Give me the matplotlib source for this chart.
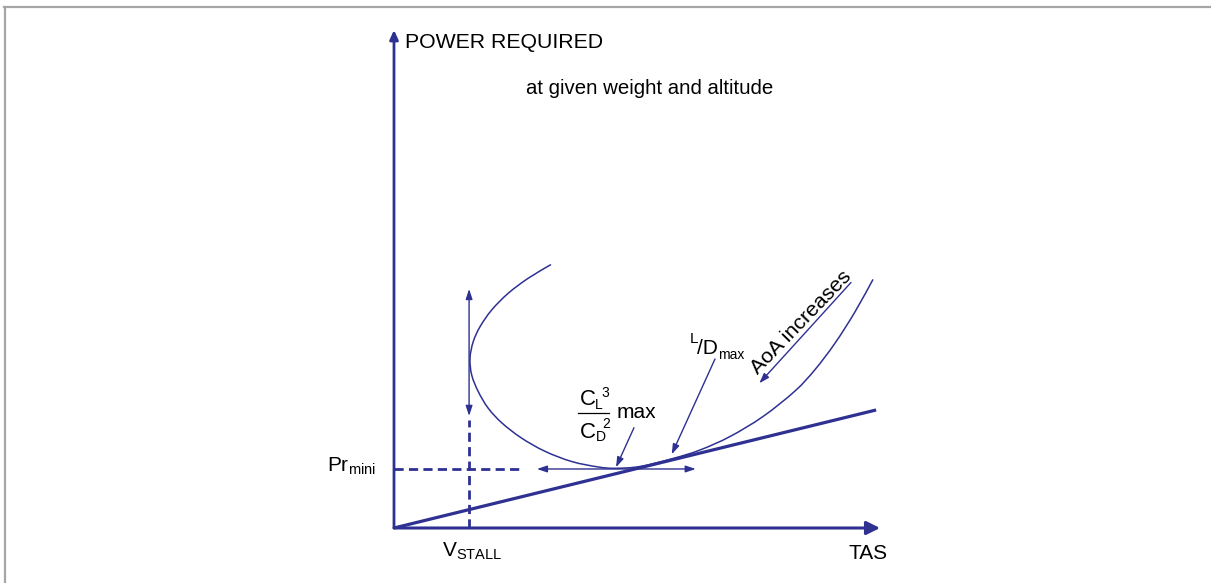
import matplotlib
matplotlib.use("Agg")
import matplotlib.pyplot as plt
from matplotlib.lines import Line2D
from matplotlib.path import Path
from matplotlib.patches import PathPatch

plt.rcParams['font.family'] = ['Liberation Sans', 'DejaVu Sans']
plt.rcParams['mathtext.fontset'] = 'custom'
plt.rcParams['mathtext.rm'] = 'Liberation Sans'
plt.rcParams['mathtext.it'] = 'Liberation Sans:italic'
plt.rcParams['mathtext.bf'] = 'Liberation Sans:bold'

# ---- data (arbitrary units) ----
curve_tas = [32.3, 27.6, 23.5, 20.1, 17.7, 16.3, 15.64, 15.99, 17.35, 19.4,
             22.22, 26.23, 31.07, 36.56, 42.04, 45.47, 50.62, 57.41, 62.96,
             69.14, 75.93, 82.51, 86.63, 90.74, 94.86, 98.56]
curve_power = [52.9, 50.14, 47.13, 43.78, 40.42, 37.41, 34.08, 30.72, 27.37,
               24.04, 21.08, 18.07, 15.4, 13.35, 12.25, 11.99, 12.35, 13.96,
               15.66, 18.37, 22.39, 27.51, 31.81, 37.11, 43.41, 49.92]
tangent_tas = [0.0, 99.2]
tangent_power = [0.0, 23.7]
v_stall = 15.45
pr_min = 11.85
stall_arrow_power = [22.5, 48.0]
min_arrow_tas = [29.4, 62.1]

labels = {
    'y': 'POWER REQUIRED',
    'x': 'TAS',
    'sub': 'at given weight and altitude',
    'aoa': 'AoA increases',
}

BLUE = '#2E3192'
W, H = 1211, 583
fig = plt.figure(figsize=(W / 100, H / 100), dpi=100)
fig.patch.set_facecolor('white')

# gray frame (top and left)
fig.add_artist(Line2D([4 / W, 1], [1 - 7 / H, 1 - 7 / H], color='#A6A6A6', lw=1.6))
fig.add_artist(Line2D([5 / W, 5 / W], [0, 1 - 7 / H], color='#A6A6A6', lw=1.6))

ax = fig.add_axes([394 / W, 55 / H, 486 / W, 498 / H])
ax.set_xlim(0, 100)
ax.set_ylim(0, 100)
ax.axis('off')

# axes arrows
ax.annotate('', xy=(100, 0), xytext=(0, 0), annotation_clip=False,
            arrowprops=dict(arrowstyle='-|>,head_length=0.8,head_width=0.4',
                            color=BLUE, lw=2.2, shrinkA=0, shrinkB=0,
                            mutation_scale=10))
ax.annotate('', xy=(0, 100), xytext=(0, 0), annotation_clip=False,
            arrowprops=dict(arrowstyle='-|>,head_length=0.55,head_width=0.25',
                            color=BLUE, lw=2.0, shrinkA=0, shrinkB=0,
                            mutation_scale=10))

# tangent line
ax.plot(tangent_tas, tangent_power, color=BLUE, lw=2.3, solid_capstyle='butt', clip_on=False)

# power-required curve drawn as a smooth path through the read points
pts = list(zip(curve_tas, curve_power))
verts = [pts[0]]
codes = [Path.MOVETO]
n = len(pts)
for i in range(n - 1):
    p0 = pts[i - 1] if i > 0 else pts[i]
    p1 = pts[i]
    p2 = pts[i + 1]
    p3 = pts[i + 2] if i + 2 < n else pts[i + 1]
    c1 = (p1[0] + (p2[0] - p0[0]) / 6, p1[1] + (p2[1] - p0[1]) / 6)
    c2 = (p2[0] - (p3[0] - p1[0]) / 6, p2[1] - (p3[1] - p1[1]) / 6)
    verts += [c1, c2, p2]
    codes += [Path.CURVE4] * 3
ax.add_patch(PathPatch(Path(verts, codes), fill=False, edgecolor=BLUE, lw=1.1,
                       clip_on=False))

# dashed guides
ax.plot([v_stall, v_stall], [0, 21.7], color=BLUE, lw=2.0, dashes=(3.3, 1.9), clip_on=False)
ax.plot([0, 26.6], [pr_min, pr_min], color=BLUE, lw=2.0, dashes=(3.3, 1.9), clip_on=False)

thin = dict(arrowstyle='<|-|>,head_length=0.6,head_width=0.2', color=BLUE, lw=1.0,
            shrinkA=0, shrinkB=0, mutation_scale=10)
ax.annotate('', xy=(v_stall, stall_arrow_power[1]), xytext=(v_stall, stall_arrow_power[0]),
            arrowprops=thin)
ax.annotate('', xy=(min_arrow_tas[1], pr_min), xytext=(min_arrow_tas[0], pr_min),
            arrowprops=thin)

single = dict(arrowstyle='-|>,head_length=0.6,head_width=0.2', color=BLUE, lw=1.0,
              shrinkA=0, shrinkB=0, mutation_scale=10)
ax.annotate('', xy=(45.68, 12.19), xytext=(49.38, 20.14), arrowprops=single)
ax.annotate('', xy=(57.14, 14.8), xytext=(66.05, 33.94), arrowprops=single)
ax.annotate('', xy=(75.16, 29.06), xytext=(94.03, 49.3), arrowprops=single)

# texts
ax.text(2.26, 96.4, labels['y'], fontsize=15.3, ha='left', va='baseline')
ax.text(27.1, 87.15, labels['sub'], fontsize=14.7, ha='left', va='baseline')
ax.text(93.42, -6.22, labels['x'], fontsize=15, ha='left', va='baseline')
ax.text(9.81, -5.82, r'V$_{\mathrm{STALL}}$', fontsize=15, ha='left', va='baseline')
ax.text(-3.7, 11.3, r'Pr$_{\mathrm{mini}}$', fontsize=15, ha='right', va='baseline')

# C_L^3 / C_D^2 max
ax.text(38.3, 24.7, 'C', fontsize=16, ha='left', va='baseline')
ax.text(41.4, 23.9, 'L', fontsize=10, ha='left', va='baseline')
ax.text(42.75, 26.4, '3', fontsize=10, ha='left', va='baseline')
ax.plot([37.8, 44.24], [23.03, 23.03], color='black', lw=0.9)
ax.text(38.3, 18.13, 'C', fontsize=16, ha='left', va='baseline')
ax.text(41.45, 17.4, 'D', fontsize=10, ha='left', va='baseline')
ax.text(42.85, 20.08, '2', fontsize=10, ha='left', va='baseline')
ax.text(45.82, 22.09, 'max', fontsize=15, ha='left', va='baseline')

# L/D max
ax.text(60.91, 37.09, 'L', fontsize=11, ha='left', va='baseline')
ax.text(62.35, 34.88, '/D', fontsize=15, ha='left', va='baseline')
ax.text(66.67, 33.94, 'max', fontsize=10, ha='left', va='baseline')

# AoA increases
ax.text(83.7, 41.37, labels['aoa'], fontsize=15.3, rotation=46, rotation_mode='anchor',
        ha='center', va='center')

fig.savefig('out.png', dpi=100, facecolor='white')
